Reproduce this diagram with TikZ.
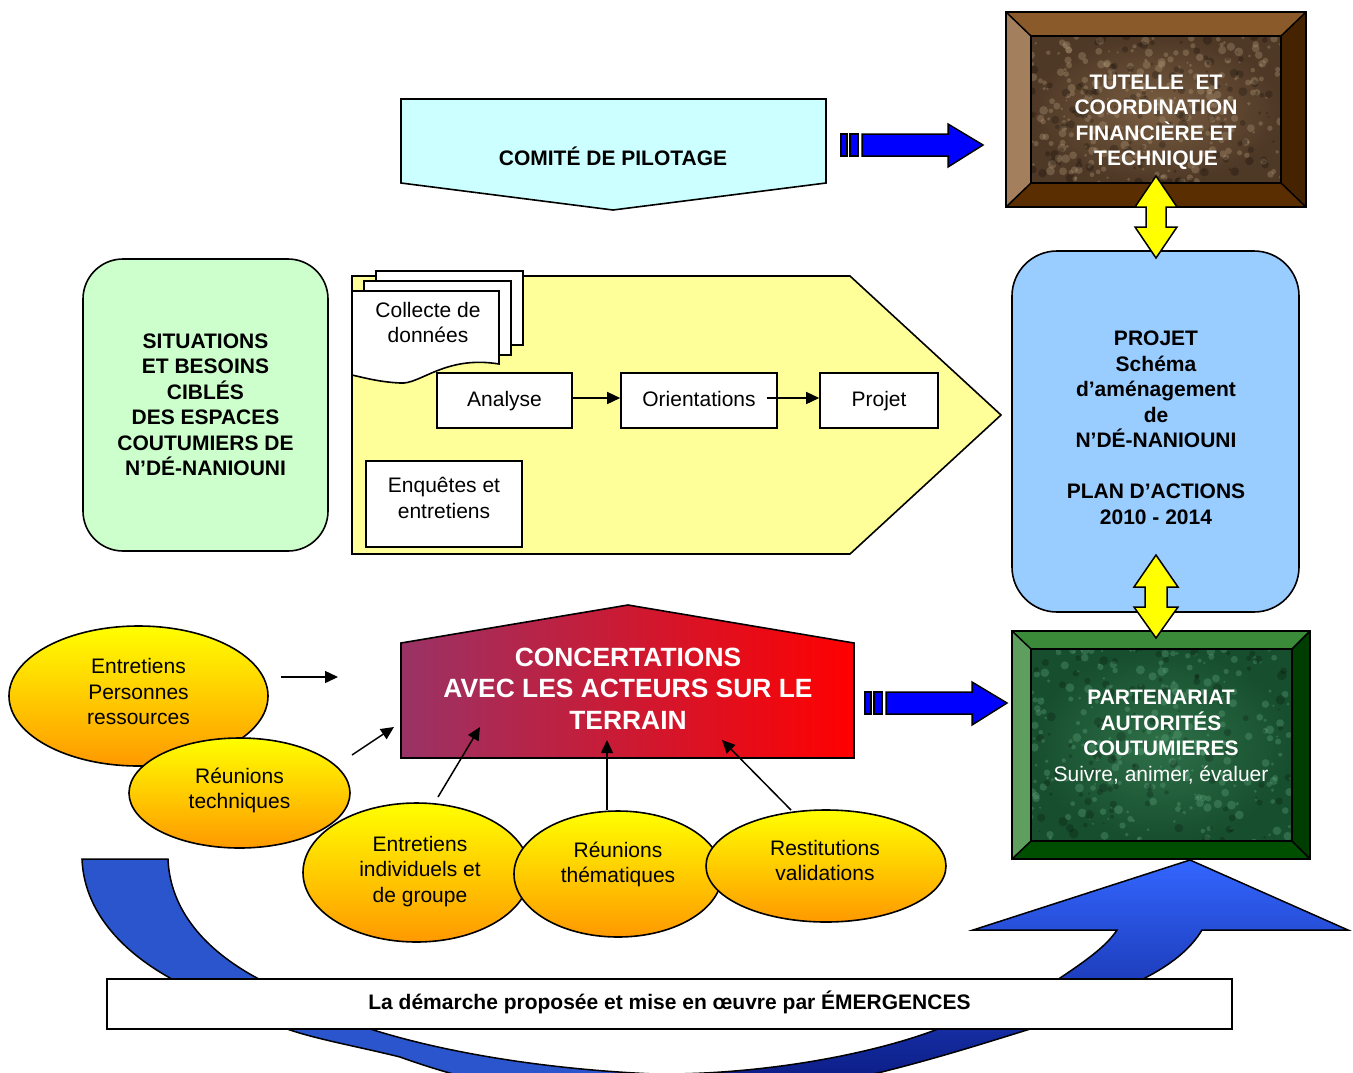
\documentclass[tikz,border=0pt]{standalone}
\usepackage{fontspec}
\setmainfont{Liberation Sans}
\usetikzlibrary{shapes.geometric,arrows.meta}
\definecolor{cyanbox}{HTML}{CCFFFF}
\definecolor{yelpent}{HTML}{FFFF99}
\definecolor{sitgreen}{HTML}{CCFFCC}
\definecolor{projblue}{HTML}{99CCFF}
\definecolor{flatblue}{HTML}{0000FF}
\definecolor{dblyellow}{HTML}{FFFF00}
\definecolor{concL}{HTML}{993366}
\definecolor{concR}{HTML}{FF0000}
\definecolor{brTop}{HTML}{8B5A2B}
\definecolor{brLeft}{HTML}{A37F5E}
\definecolor{brBot}{HTML}{5A2E00}
\definecolor{brRight}{HTML}{452200}
\definecolor{brIn}{HTML}{7A5E42}
\definecolor{brInD}{HTML}{4E3826}
\definecolor{brSpk}{HTML}{B09878}
\definecolor{grTop}{HTML}{3A8A3A}
\definecolor{grLeft}{HTML}{5E9E5E}
\definecolor{grBot}{HTML}{004F00}
\definecolor{grRight}{HTML}{003D00}
\definecolor{grIn}{HTML}{2E7048}
\definecolor{grInD}{HTML}{174E2E}
\definecolor{grSpk}{HTML}{6AB088}
\definecolor{ribL}{HTML}{2B55CC}
\definecolor{ribTop}{HTML}{3366FF}
\definecolor{ribBot}{HTML}{08157A}
\definecolor{ellTop}{HTML}{FFFF00}
\definecolor{ellBot}{HTML}{FF9900}
\newcommand\fsz{\fontsize{21}{25.5}\selectfont}
\newcommand\fbig{\fontsize{26.4}{31.5}\selectfont}
\newcommand\ribbonpath{(82,859) -- (168,859)
  .. controls (170,910) and (205,950) .. (257,978)
  .. controls (300,1003) and (340,1020) .. (380,1032)
  .. controls (460,1056) and (560,1070) .. (655,1074)
  .. controls (760,1075) and (870,1055) .. (938,1029)
  .. controls (990,1010) and (1035,995) .. (1060,978)
  .. controls (1090,958) and (1107,945) .. (1117,930)
  -- (973,930) -- (1190,860) -- (1348,930) -- (1202,930)
  .. controls (1190,950) and (1170,965) .. (1145,978)
  .. controls (1110,1000) and (1070,1017) .. (1027,1030)
  .. controls (930,1060) and (800,1102) .. (660,1102)
  .. controls (540,1102) and (450,1075) .. (400,1057)
  .. controls (360,1047) and (320,1040) .. (290,1030)
  .. controls (230,1010) and (195,995) .. (170,978)
  .. controls (120,950) and (84,910) .. (82,859) -- cycle}
\begin{document}
\begin{tikzpicture}[x=1pt,y=-1pt,
  ol/.style={draw=black,line width=1.6pt},
  txt/.style={font=\fsz,align=center,inner sep=0pt},
  btxt/.style={font=\fsz\bfseries,align=center,inner sep=0pt},
  wbtxt/.style={font=\fsz\bfseries,align=center,inner sep=0pt,text=white},
  wbox/.style={draw=black,line width=1.6pt,fill=white,rectangle,inner sep=0pt,font=\fsz,text height=15.5pt,text depth=4.5pt},
  ell/.style={ellipse,draw=black,line width=1.6pt,top color=ellTop,bottom color=ellBot,inner sep=0pt},
  conn/.style={line width=1.5pt,-{Triangle[length=13pt,width=12pt]}},
  blockblue/.style={fill=flatblue,draw=black,line width=1.5pt,line join=miter},
  blockyel/.style={fill=dblyellow,draw=black,line width=1.5pt,line join=miter}]
\useasboundingbox (0,0) rectangle (1353,1072);
\fill[white] (0,0) rectangle (1353,1072);

% ---------- bottom curved ribbon arrow ----------
\fill[ribL] \ribbonpath;
\begin{scope}
  \clip (640,840) rectangle (1353,1110);
  \shade[top color=ribTop,middle color=ribTop!55!ribBot,bottom color=ribBot] \ribbonpath;
\end{scope}
\draw[line width=1.5pt,line join=miter] \ribbonpath;
\node[wbox,minimum width=1125pt,minimum height=50pt] (lab) at (669.5,1004)
  {\bfseries La démarche proposée et mise en œuvre par ÉMERGENCES};

% ---------- Comité de pilotage ----------
\filldraw[fill=cyanbox,ol] (401,99) -- (826,99) -- (826,183) -- (613,210) -- (401,183) -- cycle;
\node[btxt] (comite) at (613,156.5) {COMITÉ DE PILOTAGE};

% ---------- flat blue arrow 1 ----------
\filldraw[blockblue] (841,134) rectangle (847,156);
\filldraw[blockblue] (850,134) rectangle (858,156);
\filldraw[blockblue] (862,134) -- (948,134) -- (948,124) -- (983,145) -- (948,167) -- (948,156) -- (862,156) -- cycle;

% ---------- brown frame ----------
\node[minimum width=300pt,minimum height=195pt,inner sep=0pt] (tut) at (1156,109.5) {};
\fill[brTop] (1006,12) -- (1306,12) -- (1281,36) -- (1031,36) -- cycle;
\fill[brLeft] (1006,12) -- (1031,36) -- (1031,183) -- (1006,207) -- cycle;
\fill[brBot] (1006,207) -- (1031,183) -- (1281,183) -- (1306,207) -- cycle;
\fill[brRight] (1306,12) -- (1306,207) -- (1281,183) -- (1281,36) -- cycle;
\shade[inner color=brIn,outer color=brInD] (1031,36) rectangle (1281,183);
\begin{scope}
  \clip (1031,36) rectangle (1281,183);
  \pgfmathsetseed{7}
  \foreach \i in {1,...,260}{
    \pgfmathsetmacro\xx{1031+250*rnd}
    \pgfmathsetmacro\yy{36+147*rnd}
    \pgfmathsetmacro\rr{1+3.5*rnd}
    \fill[brSpk,opacity=0.35] (\xx,\yy) circle[radius=\rr pt];
  }
  \foreach \i in {1,...,140}{
    \pgfmathsetmacro\xx{1031+250*rnd}
    \pgfmathsetmacro\yy{36+147*rnd}
    \pgfmathsetmacro\rr{1+4*rnd}
    \fill[black,opacity=0.22] (\xx,\yy) circle[radius=\rr pt];
  }
\end{scope}
\draw[line width=1.5pt] (1006,12) rectangle (1306,207);
\draw[line width=1.5pt] (1031,36) rectangle (1281,183);
\draw[line width=1.5pt] (1006,12) -- (1031,36) (1306,12) -- (1281,36) (1006,207) -- (1031,183) (1306,207) -- (1281,183);
\node[wbtxt] (tuttxt) at (1156,122.5) {TUTELLE\ \ ET\\COORDINATION\\FINANCIÈRE ET\\TECHNIQUE};

% ---------- Situations ----------
\node[ol,fill=sitgreen,rounded corners=40pt,minimum width=245pt,minimum height=292pt,inner sep=0pt,
  font=\fsz\bfseries,align=center] (sit) at (205.5,405)
  {SITUATIONS\\ET BESOINS\\CIBLÉS\\DES ESPACES\\COUTUMIERS DE\\N’DÉ-NANIOUNI};

% ---------- yellow pentagon ----------
\filldraw[fill=yelpent,ol] (352,276) -- (850,276) -- (1001,415) -- (850,554) -- (352,554) -- cycle;
% multi document
\filldraw[fill=white,ol] (376,271) rectangle (523,345);
\filldraw[fill=white,ol] (364,281) rectangle (511,355);
\filldraw[fill=white,ol] (352,291) -- (499,291) -- (499,364)
  .. controls (445,355) and (420,385) .. (400,383)
  .. controls (380,382) and (365,378) .. (352,375) -- cycle;
\node[txt] (collecte) at (428,322.5) {Collecte de\\données};
\node[wbox,minimum width=135pt,minimum height=55pt] (analyse) at (504.5,400.5) {Analyse};
\node[wbox,minimum width=156pt,minimum height=55pt] (orient) at (699,400.5) {Orientations};
\node[wbox,minimum width=118pt,minimum height=55pt] (projet) at (879,400.5) {Projet};
\node[wbox,minimum width=156pt,minimum height=86pt] (enq) at (444,504) {};
\node[txt] (enqtxt) at (444,498) {Enquêtes et\\entretiens};
\draw[conn] (analyse.east|-0,398) -- (orient.west|-0,398);
\draw[conn] (767,398) -- (projet.west|-0,398);

% ---------- Projet rounded box ----------
\node[ol,fill=projblue,rounded corners=45pt,minimum width=287pt,minimum height=361pt,inner sep=0pt] (proj) at (1155.5,431.5) {};
\node[btxt] (projtxt) at (1156,428) {PROJET\\Schéma\\d’aménagement\\de\\N’DÉ-NANIOUNI\\[25.5pt]PLAN D’ACTIONS\\2010 - 2014};

% ---------- green frame ----------
\node[minimum width=298pt,minimum height=228pt,inner sep=0pt] (part) at (1161,745) {};
\fill[grTop] (1012,631) -- (1310,631) -- (1292,649) -- (1031,649) -- cycle;
\fill[grLeft] (1012,631) -- (1031,649) -- (1031,841) -- (1012,859) -- cycle;
\fill[grBot] (1012,859) -- (1031,841) -- (1292,841) -- (1310,859) -- cycle;
\fill[grRight] (1310,631) -- (1310,859) -- (1292,841) -- (1292,649) -- cycle;
\shade[inner color=grIn,outer color=grInD] (1031,649) rectangle (1292,841);
\begin{scope}
  \clip (1031,649) rectangle (1292,841);
  \pgfmathsetseed{11}
  \foreach \i in {1,...,260}{
    \pgfmathsetmacro\xx{1031+261*rnd}
    \pgfmathsetmacro\yy{649+192*rnd}
    \pgfmathsetmacro\rr{1+3.5*rnd}
    \fill[grSpk,opacity=0.3] (\xx,\yy) circle[radius=\rr pt];
  }
  \foreach \i in {1,...,120}{
    \pgfmathsetmacro\xx{1031+261*rnd}
    \pgfmathsetmacro\yy{649+192*rnd}
    \pgfmathsetmacro\rr{1+4*rnd}
    \fill[black,opacity=0.2] (\xx,\yy) circle[radius=\rr pt];
  }
\end{scope}
\draw[line width=1.5pt] (1012,631) rectangle (1310,859);
\draw[line width=1.5pt] (1031,649) rectangle (1292,841);
\draw[line width=1.5pt] (1012,631) -- (1031,649) (1310,631) -- (1292,649) (1012,859) -- (1031,841) (1310,859) -- (1292,841);
\node[wbtxt] (parttxt) at (1161,737) {PARTENARIAT\\AUTORITÉS\\COUTUMIERES\\\mdseries Suivre, animer, évaluer};

% ---------- yellow double arrows ----------
\filldraw[blockyel] (1156,176) -- (1177,207) -- (1166,207) -- (1166,227) -- (1177,227) -- (1156,258)
  -- (1135,227) -- (1146,227) -- (1146,207) -- (1135,207) -- cycle;
\filldraw[blockyel] (1156,555) -- (1178,587) -- (1167,587) -- (1167,607) -- (1178,607) -- (1156,638)
  -- (1134,607) -- (1145,607) -- (1145,587) -- (1134,587) -- cycle;

% ---------- Concertations ----------
\shade[left color=concL,right color=concR] (401,643) -- (628,605) -- (854,643) -- (854,758) -- (401,758) -- cycle;
\draw[ol,line join=miter] (401,643) -- (628,605) -- (854,643) -- (854,758) -- (401,758) -- cycle;
\node[font=\fbig\bfseries,text=white,align=center,inner sep=0pt] (conc) at (628,688.5)
  {CONCERTATIONS\\AVEC LES ACTEURS SUR LE\\TERRAIN};

% ---------- flat blue arrow 2 ----------
\filldraw[blockblue] (865,692) rectangle (871,714);
\filldraw[blockblue] (874,692) rectangle (882,714);
\filldraw[blockblue] (886,692) -- (972,692) -- (972,682) -- (1007,703) -- (972,725) -- (972,714) -- (886,714) -- cycle;

% ---------- ellipses ----------
\node[ell,minimum width=259pt,minimum height=140pt] (e1) at (138.5,696) {};
\node[txt] (e1t) at (138.5,691.5) {Entretiens\\Personnes\\ressources};
\node[ell,minimum width=221pt,minimum height=110pt] (e2) at (239.5,793) {};
\node[txt] (e2t) at (239.5,790.5) {Réunions\\techniques};
\node[ell,minimum width=227pt,minimum height=139pt] (e3) at (416.5,872.5) {};
\node[txt] (e3t) at (420,871.5) {Entretiens\\individuels et\\de groupe};
\node[ell,minimum width=208pt,minimum height=126pt] (e4) at (618,874) {};
\node[txt] (e4t) at (618,864.5) {Réunions\\thématiques};
\node[ell,minimum width=240pt,minimum height=112pt] (e5) at (826,866) {};
\node[txt] (e5t) at (825,860.5) {Restitutions\\validations};

% ---------- thin arrows ----------
\coordinate (a1s) at (281,677); \coordinate (a1e) at (338,677);
\coordinate (a2s) at (352,755); \coordinate (a2e) at (394,727);
\coordinate (a3s) at (438,797); \coordinate (a3e) at (480,727);
\coordinate (a4s) at (607,810); \coordinate (a4e) at (607,740);
\coordinate (a5s) at (791,810); \coordinate (a5e) at (722,740);
\draw[conn] (a1s) -- (a1e);
\draw[conn] (a2s) -- (a2e);
\draw[conn] (a3s) -- (a3e);
\draw[conn] (a4s) -- (a4e);
\draw[conn] (a5s) -- (a5e);
\end{tikzpicture}
\end{document}
